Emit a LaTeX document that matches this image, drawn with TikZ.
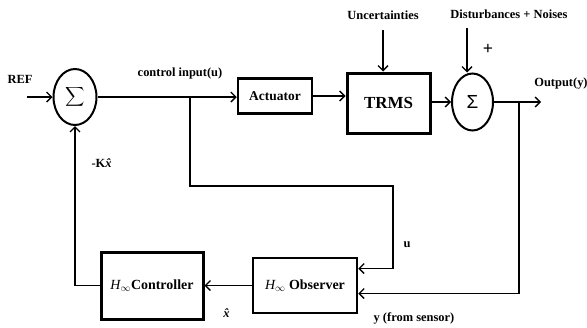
\documentclass[tikz,border=0pt]{standalone}
\usepackage{fontspec}
\setmainfont{Liberation Serif}
\newfontfamily\sansf{Liberation Sans}
\usetikzlibrary{shapes.geometric,arrows.meta,calc}
\begin{document}
\begin{tikzpicture}[x=1bp,y=-1bp,
  line/.style={line width=1.3bp},
  arr/.style={line, -{Straight Barb[length=5bp,width=10bp,line width=1.3bp]}},
  sumnode/.style={draw, ellipse, line width=2bp, inner sep=0pt},
  blk/.style={draw, rectangle, inner sep=0pt, font=\bfseries\fontsize{14}{14}\selectfont},
  lbl/.style={font=\bfseries\fontsize{12.5}{13}\selectfont, inner sep=0pt}]
\useasboundingbox (0,0) rectangle (587,327);
% blocks
\node[sumnode, minimum width=43bp, minimum height=56bp] (s1) at (75,97) {\scalebox{1.35}{$\displaystyle\sum$}};
\node[blk, line width=2.5bp, minimum width=74bp, minimum height=35bp, font=\bfseries\fontsize{13.5}{14}\selectfont] (act) at (275,96) {Actuator};
\node[blk, line width=3bp, minimum width=83bp, minimum height=60bp, font=\bfseries\fontsize{17}{17}\selectfont] (trms) at (388.5,103) {TRMS};
\node[sumnode, minimum width=41bp, minimum height=57bp] (s2) at (472.5,102) {\sansf\fontsize{19}{19}\selectfont Σ};
\node[blk, line width=2.5bp, minimum width=104bp, minimum height=55bp] (obs) at (305,285.5) {{\mdseries\itshape H}$_{\infty}$ Observer};
\node[blk, line width=3bp, minimum width=102bp, minimum height=67bp] (ctrl) at (152,285.5) {{\mdseries\itshape H}$_{\infty}$Controller};
% coordinates
\coordinate (refin) at (27,97);
\coordinate (b1) at (190,97);
\coordinate (bu) at (393,186);
\coordinate (unc) at (383,30);
\coordinate (dist) at (467,28);
\coordinate (out) at (541,102);
\coordinate (b2) at (519,102);
\coordinate (fb) at (75,285.5);
% connectors
\draw[arr] (refin) -- (s1.west);
\draw[arr] (s1.east) -- (s1.east -| act.west);
\draw[arr] (b1) |- (bu) |- ([yshift=17bp]obs.east);
\draw[arr] (act.east) -- (act.east -| trms.west);
\draw[arr] (unc) -- (unc |- trms.north);
\draw[arr] (s2.west -| trms.east) -- (s2.west);
\draw[arr] (dist) -- (dist |- s2.north);
\draw[arr] (s2.east) -- (out);
\draw[arr] (b2) |- ([yshift=-8bp]obs.east);
\draw[arr] (obs.west) -- (obs.west -| ctrl.east);
\draw[arr] (ctrl.west) -- (fb) -- (s1.south);
% labels
\node[lbl] (lref) at (20,79) {REF};
\node[lbl] (lcu) at (180,73) {control input(u)};
\node[lbl] (lunc) at (383,15) {Uncertainties};
\node[lbl] (ldist) at (509,14) {Disturbances + Noises};
\node[font=\bfseries\fontsize{18}{18}\selectfont, inner sep=0pt] (lplus) at (488,49) {+};
\node[lbl] (lout) at (561,84) {Output(y)};
\node[lbl] (lk) at (103,163) {-K\textit{\^{x}}};
\node[lbl] (lu) at (407,245) {u};
\node[lbl] (lxh) at (228,313) {\textit{\^{x}}};
\node[lbl] (ly) at (414,318) {y (from sensor)};
\end{tikzpicture}
\end{document}
